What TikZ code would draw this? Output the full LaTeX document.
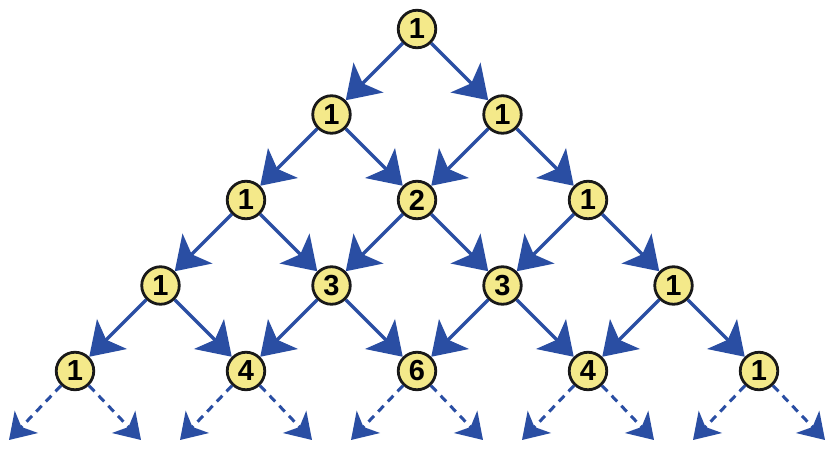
\documentclass[tikz,border=0pt]{standalone}
\usepackage{fontspec}
\setmainfont{Liberation Sans}
\usetikzlibrary{arrows.meta}
\definecolor{arrowblue}{HTML}{2A4EA3}
\definecolor{nodeyellow}{HTML}{F4E98A}
\tikzset{
  num/.style={circle, draw=black!90, line width=2.8pt, fill=nodeyellow,
    minimum size=37.5pt, inner sep=0pt,
    font=\fontsize{29}{29}\selectfont\bfseries},
  arr/.style={draw=arrowblue, line width=3.4pt,
    -{Stealth[length=32pt,width=42pt,inset=8pt]}},
  darr/.style={draw=arrowblue, line width=3pt, dash pattern=on 8pt off 6pt,
    -{Stealth[length=25pt,width=32pt,inset=7pt]}}
}
\begin{document}
\begin{tikzpicture}[x=1pt,y=-1pt]
\useasboundingbox (0,0) rectangle (830,450);
% Pascal's triangle: row/column/value
\foreach \r/\k/\v in {0/0/1,
  1/0/1, 1/1/1,
  2/0/1, 2/1/2, 2/2/1,
  3/0/1, 3/1/3, 3/2/3, 3/3/1,
  4/0/1, 4/1/4, 4/2/6, 4/3/4, 4/4/1}
  \node[num] (n-\r-\k) at ({417+85.5*(2*\k-\r)}, {29+85.5*\r}) {\v};
% solid arrows between consecutive rows
\foreach \r in {0,...,3}{
  \pgfmathtruncatemacro{\rr}{\r+1}
  \foreach \k in {0,...,\r}{
    \pgfmathtruncatemacro{\kk}{\k+1}
    \draw[arr] (n-\r-\k) -- (n-\rr-\k);
    \draw[arr] (n-\r-\k) -- (n-\rr-\kk);
  }
}
% dashed arrows continuing below the last row
\foreach \k in {0,...,4}{
  \coordinate (dl-\k) at ({417+85.5*(2*\k-4)-66}, 440);
  \coordinate (dr-\k) at ({417+85.5*(2*\k-4)+66}, 440);
  \draw[darr] (n-4-\k) -- (dl-\k);
  \draw[darr] (n-4-\k) -- (dr-\k);
}
\end{tikzpicture}
\end{document}
